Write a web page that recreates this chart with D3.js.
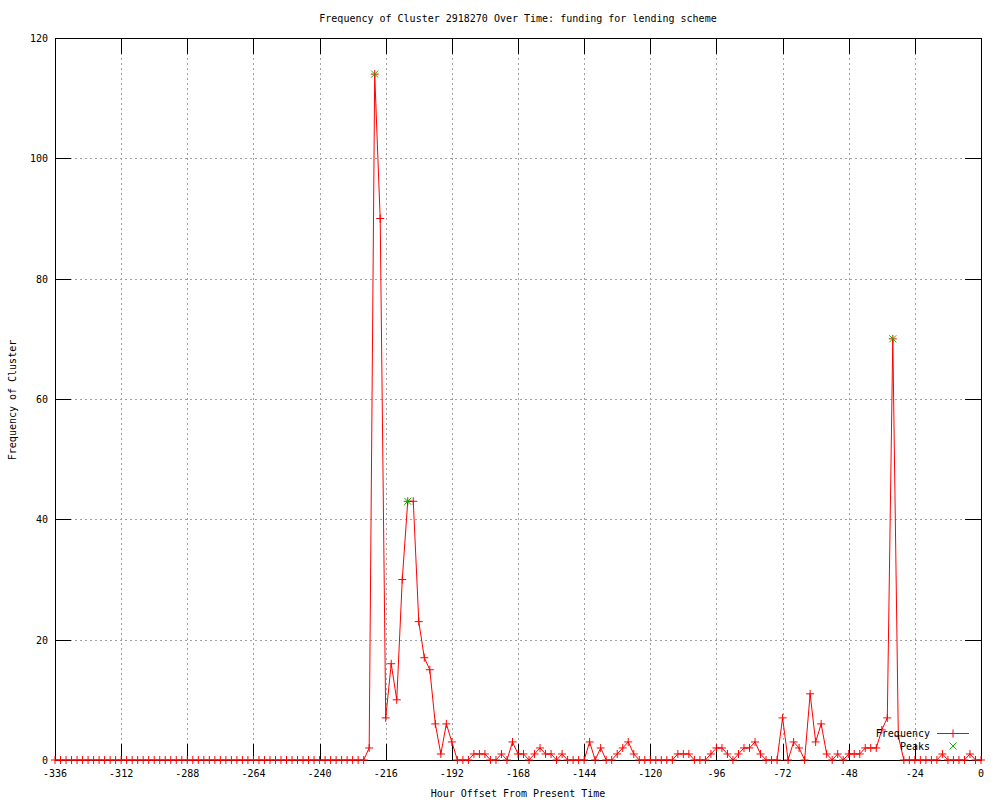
<!DOCTYPE html>
<html>
<head>
<meta charset="utf-8">
<script src="https://cdn.jsdelivr.net/npm/d3@7"></script>
<style>
body{margin:0;background:#fff;}
text{font-family:"DejaVu Sans Mono",monospace;font-size:10px;fill:#000;}
</style>
</head>
<body>
<svg id="chart" width="1000" height="800"></svg>
<script>
const titleText = "Frequency of Cluster 2918270 Over Time: funding for lending scheme";
const xLabel = "Hour Offset From Present Time";
const yLabel = "Frequency of Cluster";
const xTicks = [-336,-312,-288,-264,-240,-216,-192,-168,-144,-120,-96,-72,-48,-24,0];
const yTicks = [0,20,40,60,80,100,120];

// hours (every 2h) and frequencies
const hours = d3.range(-336, 1, 2);
const nonZero = [
  [-222,2],[-220,114],[-218,90],[-216,7],[-214,16],[-212,10],[-210,30],[-208,43],[-206,43],
  [-204,23],[-202,17],[-200,15],[-198,6],[-196,1],[-194,6],[-192,3],
  [-184,1],[-182,1],[-180,1],[-174,1],[-170,3],[-168,1],[-166,1],[-162,1],[-160,2],[-158,1],[-156,1],[-152,1],
  [-142,3],[-138,2],[-132,1],[-130,2],[-128,3],[-126,1],
  [-110,1],[-108,1],[-106,1],[-98,1],[-96,2],[-94,2],[-92,1],[-88,1],[-86,2],[-84,2],[-82,3],[-80,1],
  [-72,7],[-68,3],[-66,2],[-62,11],[-60,3],[-58,6],[-56,1],[-52,1],[-48,1],[-46,1],[-44,1],
  [-42,2],[-40,2],[-38,2],[-36,5],[-34,7],[-32,70],[-30,4],[-14,1],[-4,1]
];
const freqMap = new Map(nonZero);
const frequency = hours.map(h => freqMap.get(h) || 0);
const peakHours = [-220,-208,-32];
const peakValues = [114,43,70];

const svg = d3.select("#chart");
const L=55, R=981, T=38, B=760;
const x = d3.scaleLinear().domain([-336,0]).range([L,R]);
const y = d3.scaleLinear().domain([0,120]).range([B,T]);

// grid
const grid = svg.append("g").attr("stroke","#a0a0a0").attr("stroke-dasharray","2,3").attr("stroke-width",1);
xTicks.slice(1,-1).forEach(t=>{
  grid.append("line").attr("x1",Math.round(x(t))+0.5).attr("x2",Math.round(x(t))+0.5).attr("y1",T).attr("y2",B);
});
yTicks.slice(1,-1).forEach(t=>{
  grid.append("line").attr("y1",Math.round(y(t))+0.5).attr("y2",Math.round(y(t))+0.5).attr("x1",L).attr("x2",R);
});

// ticks (inside, both sides)
const tk = svg.append("g").attr("stroke","#000").attr("stroke-width",1);
const TL = 16;
xTicks.forEach(t=>{
  const px = Math.round(x(t))+0.5;
  tk.append("line").attr("x1",px).attr("x2",px).attr("y1",B).attr("y2",B-TL);
  tk.append("line").attr("x1",px).attr("x2",px).attr("y1",T).attr("y2",T+TL);
});
yTicks.forEach(t=>{
  const py = Math.round(y(t))+0.5;
  tk.append("line").attr("x1",L).attr("x2",L+TL).attr("y1",py).attr("y2",py);
  tk.append("line").attr("x1",R).attr("x2",R-TL).attr("y1",py).attr("y2",py);
});

// border
svg.append("rect").attr("x",L+0.5).attr("y",T+0.5).attr("width",R-L).attr("height",B-T)
  .attr("fill","none").attr("stroke","#000").attr("stroke-width",1);

// tick labels
xTicks.forEach(t=>{
  svg.append("text").attr("x",x(t)).attr("y",777).attr("text-anchor","middle").text(t);
});
yTicks.forEach(t=>{
  svg.append("text").attr("x",48).attr("y",y(t)+4).attr("text-anchor","end").text(t);
});

// titles
svg.append("text").attr("x",518).attr("y",22).attr("text-anchor","middle").text(titleText);
svg.append("text").attr("x",518).attr("y",797).attr("text-anchor","middle").text(xLabel);
svg.append("text").attr("transform","translate(16,400) rotate(-90)").attr("text-anchor","middle").text(yLabel);

// data line
const data = hours.map((h,i)=>({h, v:frequency[i]}));
svg.append("path").datum(data)
  .attr("fill","none").attr("stroke","#ff0000").attr("stroke-width",1)
  .attr("d", d3.line().x(d=>x(d.h)).y(d=>y(d.v)));

const plus = (g, cx, cy, s) => {
  g.append("path").attr("d",`M${cx-s},${cy}H${cx+s}M${cx},${cy-s}V${cy+s}`)
   .attr("stroke","#ff0000").attr("stroke-width",1).attr("fill","none");
};
const cross = (g, cx, cy, s) => {
  g.append("path").attr("d",`M${cx-s},${cy-s}L${cx+s},${cy+s}M${cx-s},${cy+s}L${cx+s},${cy-s}`)
   .attr("stroke","#00c000").attr("stroke-width",1).attr("fill","none");
};
const mk = svg.append("g");
data.forEach(d=>plus(mk, x(d.h), y(d.v), 4));
peakHours.forEach((h,i)=>cross(mk, x(h), y(peakValues[i]), 3.5));

// legend
svg.append("text").attr("x",930).attr("y",737).attr("text-anchor","end").text("Frequency");
svg.append("line").attr("x1",937).attr("x2",969).attr("y1",733.5).attr("y2",733.5).attr("stroke","#ff0000");
plus(svg, 953, 733.5, 4);
svg.append("text").attr("x",930).attr("y",750).attr("text-anchor","end").text("Peaks");
cross(svg, 953, 746, 3.5);
</script>
</body>
</html>
